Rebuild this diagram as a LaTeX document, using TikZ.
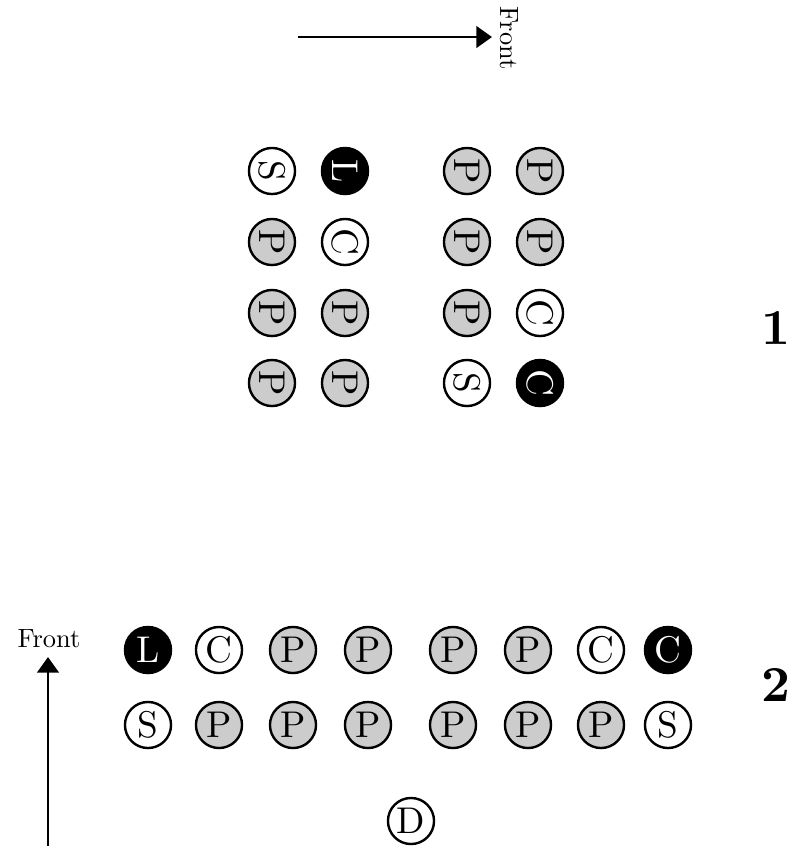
\documentclass[tikz,border=0pt]{standalone}
\usetikzlibrary{arrows.meta}
\newcommand{\ltr}[1]{\scalebox{1.55}{#1}}
\newcommand{\bignum}[1]{\scalebox{2.1}{\bfseries #1}}
\newcommand{\fronttxt}{\scalebox{1.1}{Front}}
\begin{document}
\begin{tikzpicture}[x=0.41667pt,y=-0.41667pt,
  pl/.style={circle,draw,line width=1pt,minimum size=19.2pt,inner sep=0pt,font=\normalsize},
  pg/.style={pl,fill=black!20},
  pw/.style={pl,fill=white},
  pb/.style={pl,fill=black,text=white},
  rt/.style={rotate=-90},
  arr/.style={line width=1pt,-{Triangle[length=6.5pt,width=9pt]}},
  lab/.style={font=\normalsize,inner sep=0pt},
  ftxt/.style={font=\normalsize,inner sep=0pt}]
\useasboundingbox (0,0) rectangle (806,846);
% ---------- formation 1 (rotated) ----------
\coordinate (t1s) at (298,37);
\coordinate (t1e) at (492,37);
\draw[arr] (t1s) -- (t1e);
\node[ftxt,rotate=-90] (f1) at (509,38) {\fronttxt};
% row 1
\node[pw,rt] (a11) at (272,171) {\ltr{S}};
\node[pb,rt] (a12) at (345,171) {\ltr{L}};
\node[pg,rt] (a13) at (467,171) {\ltr{P}};
\node[pg,rt] (a14) at (540,171) {\ltr{P}};
% row 2
\node[pg,rt] (a21) at (272,242) {\ltr{P}};
\node[pw,rt] (a22) at (345,242) {\ltr{C}};
\node[pg,rt] (a23) at (467,242) {\ltr{P}};
\node[pg,rt] (a24) at (540,242) {\ltr{P}};
% row 3
\node[pg,rt] (a31) at (272,313) {\ltr{P}};
\node[pg,rt] (a32) at (345,313) {\ltr{P}};
\node[pg,rt] (a33) at (467,313) {\ltr{P}};
\node[pw,rt] (a34) at (540,313) {\ltr{C}};
% row 4
\node[pg,rt] (a41) at (272,383) {\ltr{P}};
\node[pg,rt] (a42) at (345,383) {\ltr{P}};
\node[pw,rt] (a43) at (467,383) {\ltr{S}};
\node[pb,rt] (a44) at (540,383) {\ltr{C}};
\node[lab] (n1) at (776,328) {\bignum{1}};
% ---------- formation 2 ----------
\coordinate (t2s) at (48,846);
\coordinate (t2e) at (48,657);
\draw[arr] (t2s) -- (t2e);
\node[ftxt] (f2) at (49,639) {\fronttxt};
% row 1
\node[pb] (b11) at (148,650) {\ltr{L}};
\node[pw] (b12) at (219,650) {\ltr{C}};
\node[pg] (b13) at (293,650) {\ltr{P}};
\node[pg] (b14) at (368,650) {\ltr{P}};
\node[pg] (b15) at (453,650) {\ltr{P}};
\node[pg] (b16) at (528,650) {\ltr{P}};
\node[pw] (b17) at (601,650) {\ltr{C}};
\node[pb] (b18) at (668,650) {\ltr{C}};
% row 2
\node[pw] (b21) at (148,725) {\ltr{S}};
\node[pg] (b22) at (219,725) {\ltr{P}};
\node[pg] (b23) at (293,725) {\ltr{P}};
\node[pg] (b24) at (368,725) {\ltr{P}};
\node[pg] (b25) at (453,725) {\ltr{P}};
\node[pg] (b26) at (528,725) {\ltr{P}};
\node[pg] (b27) at (601,725) {\ltr{P}};
\node[pw] (b28) at (668,725) {\ltr{S}};
\node[pw] (d) at (411,821) {\ltr{D}};
\node[lab] (n2) at (776,685) {\bignum{2}};
\end{tikzpicture}
\end{document}
